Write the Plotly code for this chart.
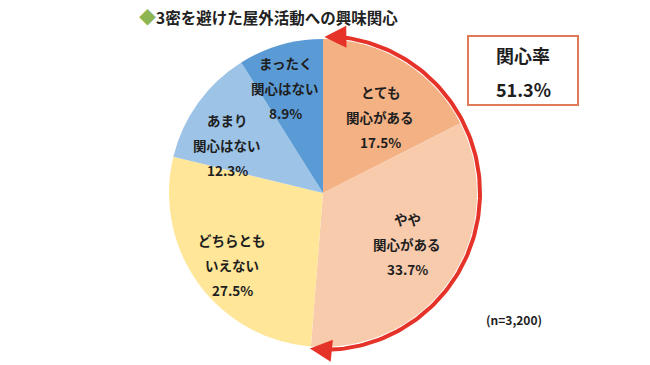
import math
import plotly.graph_objects as go

# ---- data ----
categories = ["とても関心がある", "やや関心がある", "どちらともいえない", "あまり関心はない", "まったく関心はない"]
label_lines = [["とても", "関心がある"], ["やや", "関心がある"], ["どちらとも", "いえない"],
               ["あまり", "関心はない"], ["まったく", "関心はない"]]
values = [17.5, 33.7, 27.5, 12.3, 8.9]
interest_rate = 51.3
sample_text = "(n=3,200)"
title_text = "3密を避けた屋外活動への興味関心"

# ---- style / layout ----
colors = ["#F4B183", "#F8CBAD", "#FFE699", "#9DC3E6", "#5B9BD5"]
W, H = 650, 365
CX, CY, R = 323, 193, 154
label_pos = [(380, 92), (407, 219), (232, 240), (227, 120), (285, 63)]
FONT = "Noto Sans CJK JP"

fig = go.Figure()

fig.add_trace(go.Pie(
    values=values, labels=categories, sort=False, direction="clockwise", rotation=0,
    marker=dict(colors=colors, line=dict(width=0)), textinfo="none", hoverinfo="skip",
    showlegend=False,
    domain=dict(x=[(CX - R) / W, (CX + R) / W], y=[(H - CY - R) / H, (H - CY + R) / H]),
))

# red arc for the interest rate (share of first two categories)
RA = R + 3
span = (values[0] + values[1]) / 100 * 360
n = 120
th0, th1 = 3.0, span - 3.0
xs, ys = [], []
for i in range(n + 1):
    t = math.radians(th0 + (th1 - th0) * i / n)
    xs.append(CX + RA * math.sin(t))
    ys.append(CY - RA * math.cos(t))
fig.add_trace(go.Scatter(x=xs, y=ys, mode="lines", line=dict(color="#E63329", width=4),
                         hoverinfo="skip", showlegend=False))

def pt(deg, r):
    t = math.radians(deg)
    return CX + r * math.sin(t), CY - r * math.cos(t)

annotations = []
for tip_deg, tail_deg in [(0.5, 6.0), (span + 0.5, span - 5.0)]:
    tx, ty = pt(tip_deg, RA - 1)
    ax, ay = pt(tail_deg, RA)
    annotations.append(dict(x=tx, y=ty, ax=ax, ay=ay, xref="x", yref="y", axref="x", ayref="y",
                            showarrow=True, arrowhead=2, arrowsize=1.1, arrowwidth=4,
                            arrowcolor="#E63329", text="", standoff=0, startstandoff=0))

# slice labels
for (lx, ly), lines, v in zip(label_pos, label_lines, values):
    for k, s in enumerate(lines + [f"{v:.1f}%"]):
        annotations.append(dict(x=lx, y=ly + 25 * k, xref="x", yref="y", text=f"<b>{s}</b>",
                                showarrow=False, font=dict(family=FONT, size=13.5, color="#1E1E1E"),
                                xanchor="center", yanchor="middle"))

# title
annotations.append(dict(x=137, y=16, xref="x", yref="y", xanchor="left", yanchor="middle",
                        text=f"<span style='color:#8DB552;font-size:17px'>◆</span><b>{title_text}</b>",
                        showarrow=False, font=dict(family=FONT, size=15.5, color="#222222")))
# box text
annotations.append(dict(x=523, y=55, xref="x", yref="y", text="<b>関心率</b>", showarrow=False,
                        font=dict(family=FONT, size=18, color="#1E1E1E")))
annotations.append(dict(x=523, y=89, xref="x", yref="y", text=f"<b>{interest_rate:.1f}%</b>",
                        showarrow=False, font=dict(family=FONT, size=18, color="#1E1E1E")))
# n
annotations.append(dict(x=514, y=319, xref="x", yref="y", text=f"<b>{sample_text}</b>", showarrow=False,
                        font=dict(family=FONT, size=12, color="#1E1E1E")))

fig.update_layout(
    width=W, height=H, margin=dict(l=0, r=0, t=0, b=0),
    paper_bgcolor="white", plot_bgcolor="rgba(0,0,0,0)",
    xaxis=dict(range=[0, W], visible=False, fixedrange=True),
    yaxis=dict(range=[H, 0], visible=False, fixedrange=True),
    annotations=annotations,
    shapes=[dict(type="rect", xref="x", yref="y", x0=468, x1=578, y0=36, y1=105,
                 line=dict(color="#E07B5A", width=2), fillcolor="rgba(0,0,0,0)")],
)

fig.write_html("out.html", config={"displayModeBar": False},
               post_script="document.body.style.margin='0';document.body.style.overflow='hidden';")
